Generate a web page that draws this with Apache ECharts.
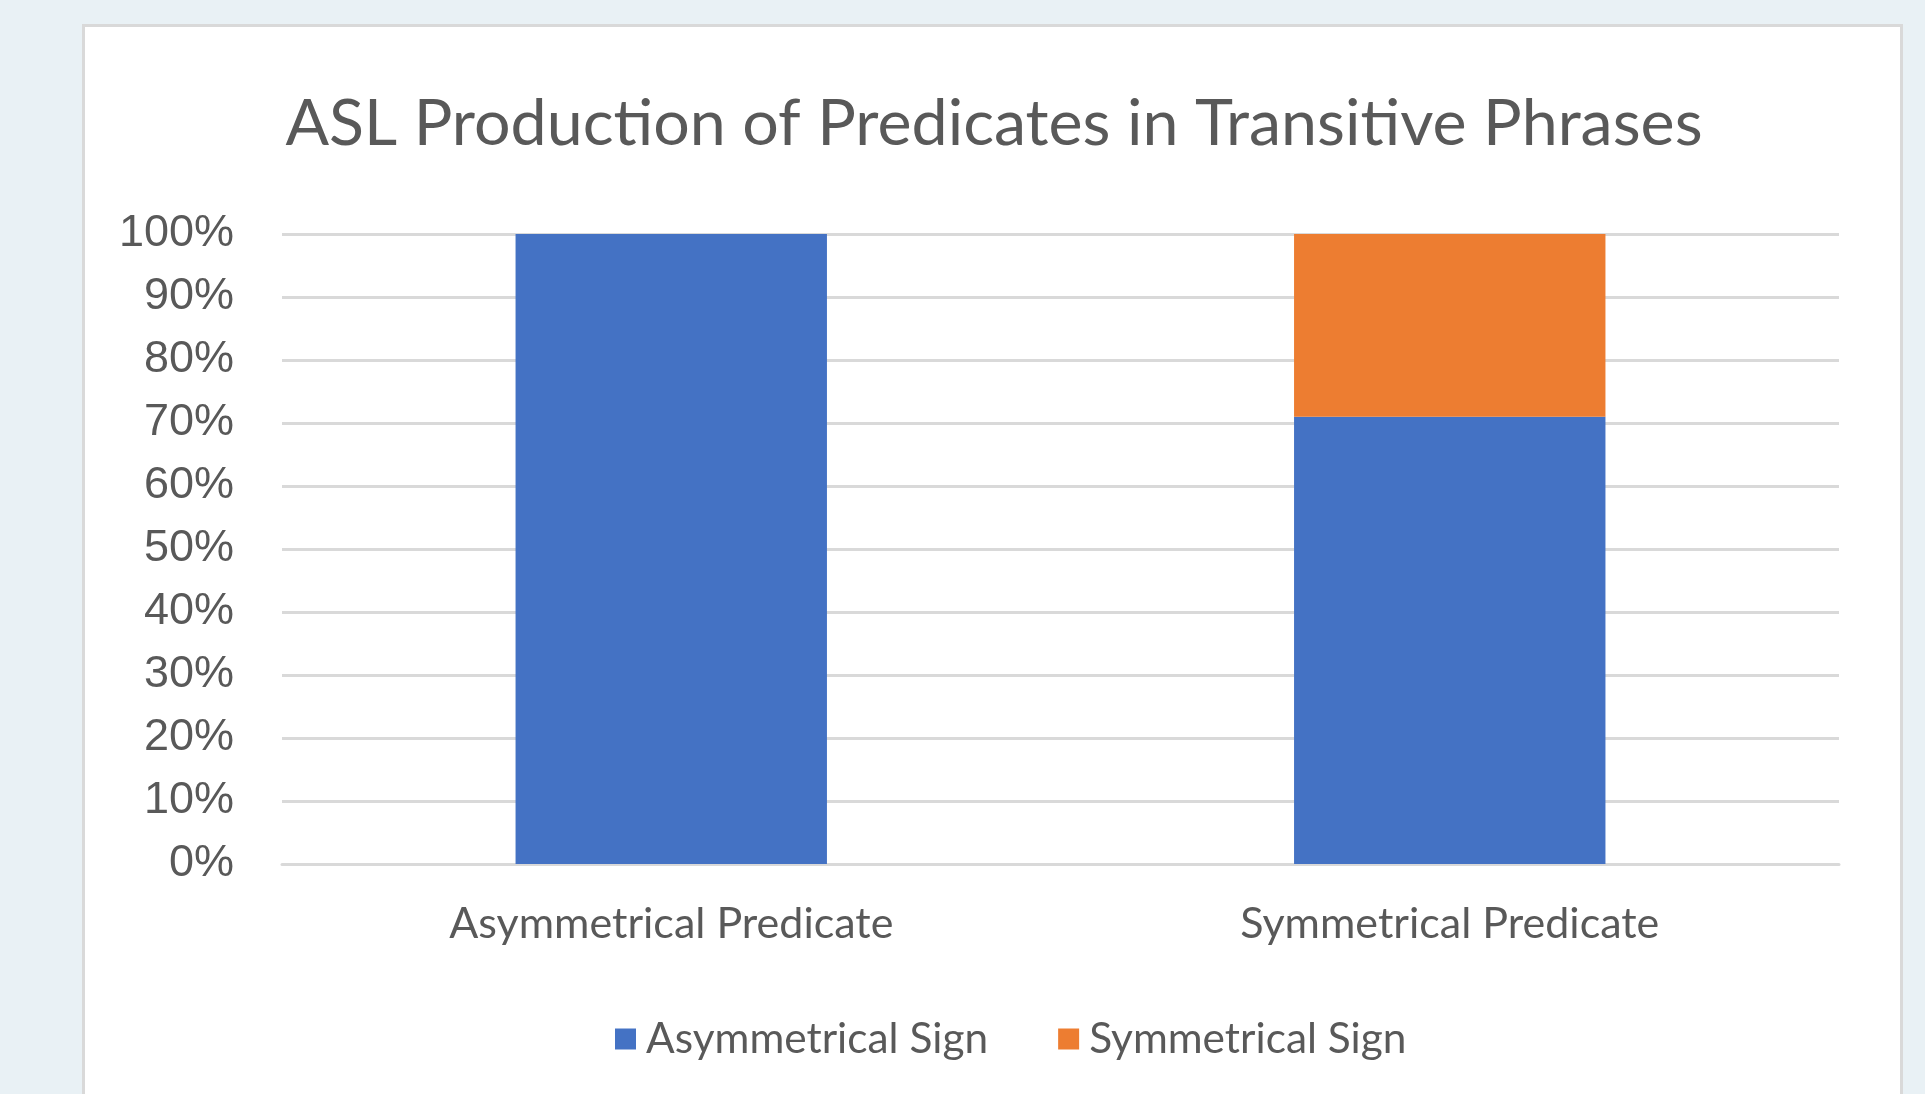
<!DOCTYPE html>
<html>
<head>
<meta charset="utf-8">
<script src="https://cdn.jsdelivr.net/npm/echarts@6/dist/echarts.min.js"></script>
<style>
html, body { margin: 0; padding: 0; background: #e9f1f5; width: 1925px; height: 1094px; overflow: hidden; }
#panel { position: absolute; left: 82px; top: 24px; width: 1821px; height: 1100px; background: #fff; border: 3px solid #d9d9d9; box-sizing: border-box; }
#chart { position: absolute; left: 0; top: 0; width: 1925px; height: 1094px; }
</style>
</head>
<body>
<div id="panel"></div>
<div id="chart"></div>
<script>
// data
var categories = ['Asymmetrical Predicate', 'Symmetrical Predicate'];
var asymmetricalSign = [100, 71];
var symmetricalSign = [0, 29];
var yTicks = [0, 100, 10]; // min, max, step

var txt = '#595959';
var face = 'Lato';

var chart = echarts.init(document.getElementById('chart'));
var option = {
    backgroundColor: 'transparent',
    animation: false,
    title: {
        text: 'ASL Production of Predicates in Transitive Phrases',
        left: 989,
        top: 86,
        textAlign: 'center',
        textStyle: { color: txt, fontFamily: face, fontWeight: 'normal', fontSize: 64.5, lineHeight: 66 }
    },
    legend: {
        left: 610,
        top: 1013,
        icon: 'rect',
        itemWidth: 21,
        itemHeight: 21,
        itemGap: 70,
        textStyle: { color: txt, fontFamily: face, fontSize: 42.4, padding: [0, 0, 0, 5] },
        data: ['Asymmetrical Sign', 'Symmetrical Sign']
    },
    grid: { left: 282, right: 86, top: 234, bottom: 230, containLabel: false },
    xAxis: {
        type: 'category',
        data: categories,
        axisLine: { lineStyle: { color: '#d9d9d9', width: 3 } },
        axisTick: { show: false },
        axisLabel: { color: txt, fontFamily: face, fontSize: 43, margin: 39 }
    },
    yAxis: {
        type: 'value',
        min: yTicks[0],
        max: yTicks[1],
        interval: yTicks[2],
        axisLine: { show: false },
        axisTick: { show: false },
        splitLine: { lineStyle: { color: '#d9d9d9', width: 3 } },
        axisLabel: { color: txt, fontFamily: 'Liberation Sans', fontSize: 45, margin: 48, formatter: '{value}%' }
    },
    series: [
        {
            name: 'Asymmetrical Sign',
            type: 'bar',
            stack: 'total',
            barWidth: '40%',
            itemStyle: { color: '#4472c4' },
            data: asymmetricalSign
        },
        {
            name: 'Symmetrical Sign',
            type: 'bar',
            stack: 'total',
            barWidth: '40%',
            itemStyle: { color: '#ed7d31' },
            data: symmetricalSign
        }
    ]
};
chart.setOption(option);
</script>
</body>
</html>
